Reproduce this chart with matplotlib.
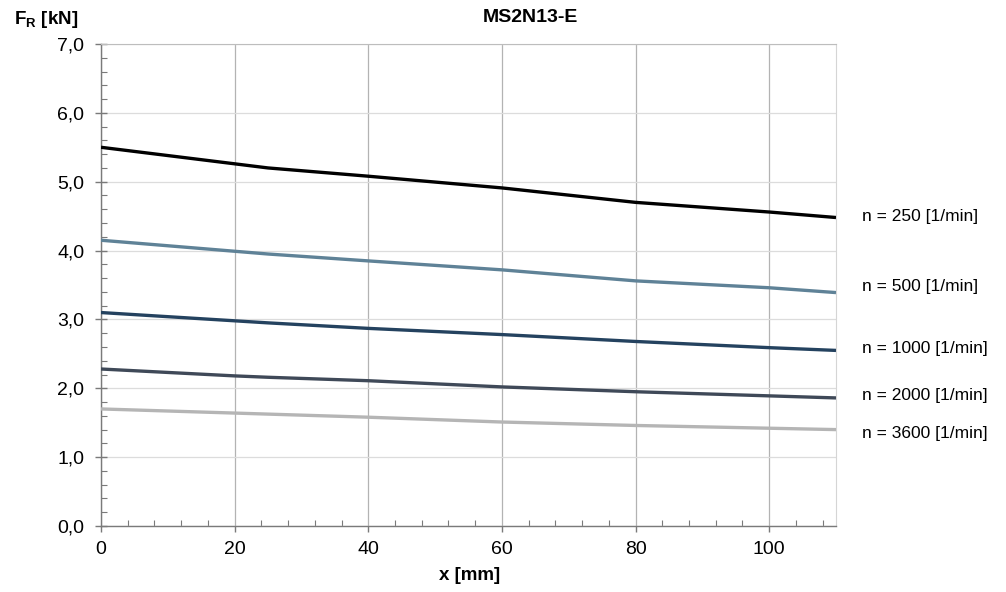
import matplotlib
matplotlib.use("Agg")
import matplotlib.pyplot as plt
from matplotlib.ticker import MultipleLocator, FuncFormatter
from matplotlib.transforms import blended_transform_factory

plt.rcParams['font.family'] = ['Liberation Sans', 'DejaVu Sans']
plt.rcParams['mathtext.fontset'] = 'custom'
plt.rcParams['mathtext.rm'] = 'Liberation Sans'
plt.rcParams['mathtext.bf'] = 'Liberation Sans:bold'

# Data
x_mm = [0, 20, 25, 40, 60, 80, 100, 110]
fr_250 = [5.50, 5.26, 5.20, 5.08, 4.91, 4.70, 4.56, 4.48]
fr_500 = [4.15, 3.99, 3.95, 3.85, 3.72, 3.56, 3.46, 3.39]
fr_1000 = [3.10, 2.98, 2.95, 2.87, 2.78, 2.68, 2.59, 2.55]
fr_2000 = [2.28, 2.18, 2.16, 2.11, 2.02, 1.95, 1.89, 1.86]
fr_3600 = [1.70, 1.64, 1.625, 1.58, 1.51, 1.46, 1.42, 1.40]
series_labels = ["n = 250 [1/min]", "n = 500 [1/min]", "n = 1000 [1/min]",
                 "n = 2000 [1/min]", "n = 3600 [1/min]"]
label_y = [4.50, 3.48, 2.58, 1.89, 1.35]
colors = ["#000000", "#5f8297", "#24425f", "#3f4958", "#b5b5b5"]
title = "MS2N13-E"

fig = plt.figure(figsize=(10.06, 5.92), dpi=100)
ax = fig.add_axes([101/1006, (592-526)/592, (836-101)/1006, (526-44)/592])

series = [fr_250, fr_500, fr_1000, fr_2000, fr_3600]
for vals, col in zip(series, colors):
    ax.plot(x_mm, vals, color=col, lw=2.4, solid_capstyle='butt', zorder=3)

ax.set_xlim(0, 110)
ax.set_ylim(0, 7)
ax.xaxis.set_major_locator(MultipleLocator(20))
ax.xaxis.set_minor_locator(MultipleLocator(4))
ax.yaxis.set_major_locator(MultipleLocator(1))
ax.yaxis.set_minor_locator(MultipleLocator(0.2))
ax.yaxis.set_major_formatter(FuncFormatter(lambda v, p: f"{v:.1f}".replace('.', ',')))
ax.xaxis.set_major_formatter(FuncFormatter(lambda v, p: f"{v:.0f}"))

ax.grid(axis='x', which='major', color='#b3b3b3', lw=0.9)
ax.grid(axis='y', which='major', color='#dcdcdc', lw=0.9)
ax.set_axisbelow(True)

for s in ['left', 'bottom']:
    ax.spines[s].set_color('#7a7a7a')
    ax.spines[s].set_linewidth(1.0)
ax.spines['top'].set_color('#bdbdbd')
ax.spines['right'].set_color('#d5d5d5')

ax.tick_params(axis='both', which='major', labelsize=14, color='#7a7a7a', length=6, width=1)
ax.tick_params(axis='y', which='major', direction='inout', length=8, pad=8)
ax.tick_params(axis='x', which='major', direction='out', length=4, pad=7)
ax.tick_params(axis='both', which='minor', direction='in', color='#7a7a7a', length=4, width=0.8)

trans = blended_transform_factory(ax.transAxes, ax.transData)
for lab, yy in zip(series_labels, label_y):
    ax.text((862-101)/(836-101), yy, lab, transform=trans, fontsize=12.5,
            va='center', ha='left', clip_on=False)

fig.text(530/1006, 1-17/592, title, fontsize=14, fontweight='bold', ha='center', va='center')
fig.text(470/1006, 1-576/592, "x [mm]", fontsize=13.5, fontweight='bold', ha='center', va='center')
fig.text(14/1006, 1-20/592, r"$\mathbf{F_R}$ [kN]", fontsize=13.5, fontweight='bold', ha='left', va='center')

fig.savefig("out.png", dpi=100)
